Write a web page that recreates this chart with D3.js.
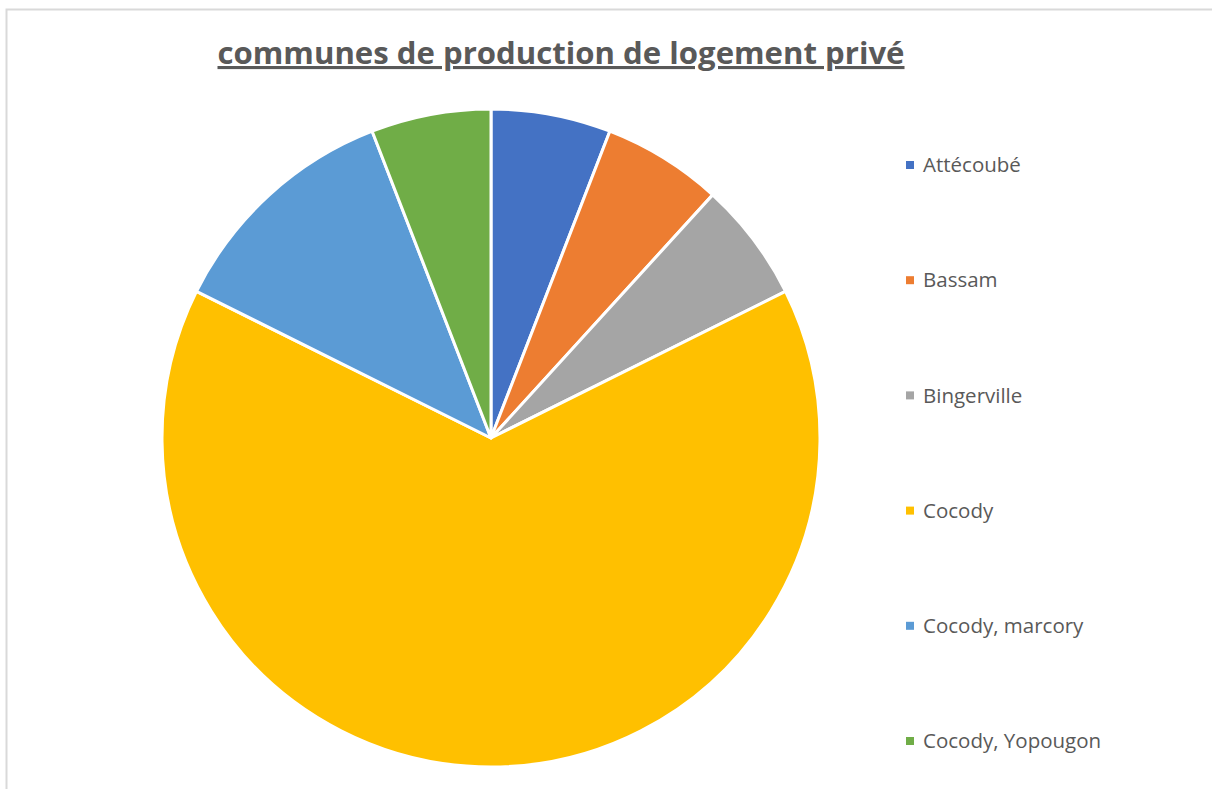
<!DOCTYPE html>
<html><head><meta charset="utf-8">
<script src="https://cdn.jsdelivr.net/npm/d3@7"></script>
<style>body{margin:0;background:#fff;} svg{display:block;}</style>
</head><body>
<svg id="c" width="1212" height="789"></svg>
<script>
const categories = ["Attécoubé","Bassam","Bingerville","Cocody","Cocody, marcory","Cocody, Yopougon"];
const values = [1,1,1,11,2,1];
const colors = ["#4472C4","#ED7D31","#A5A5A5","#FFC000","#5B9BD5","#70AD47"];
const title = "communes de production de logement privé";

const svg = d3.select("#c");
const font = "'Open Sans', 'Liberation Sans', sans-serif";
// frame
svg.append("path").attr("d","M6.5,789 V9.5 H1212").attr("fill","none").attr("stroke","#d9d9d9").attr("stroke-width",2);

svg.append("text").attr("x",561).attr("y",64).attr("text-anchor","middle")
  .attr("font-family",font).attr("font-weight","bold").attr("font-size",31)
  .attr("fill","#595959").attr("text-decoration","underline")
  .attr("textLength",687).attr("lengthAdjust","spacingAndGlyphs").text(title);

const cx=491, cy=438, r=329;
const pie = d3.pie().sort(null).value(d=>d)(values);
const arc = d3.arc().innerRadius(0).outerRadius(r);
const color = d3.scaleOrdinal().domain(categories).range(colors);
svg.append("g").attr("transform",`translate(${cx},${cy})`)
  .selectAll("path").data(pie).join("path")
  .attr("d",arc).attr("fill",(d,i)=>color(categories[i]))
  .attr("stroke","#fff").attr("stroke-width",3).attr("stroke-linejoin","round");

const ly = d3.scalePoint().domain(categories).range([165,741]);
const lg = svg.append("g").selectAll("g").data(categories).join("g")
  .attr("transform",d=>`translate(906,${ly(d)})`);
lg.append("rect").attr("x",0).attr("y",-4).attr("width",8).attr("height",8).attr("fill",d=>color(d));
lg.append("text").attr("x",17).attr("y",0).attr("dy","0.35em")
  .attr("font-family",font).attr("font-size",20.5).attr("fill","#595959").text(d=>d);
</script>
</body></html>
